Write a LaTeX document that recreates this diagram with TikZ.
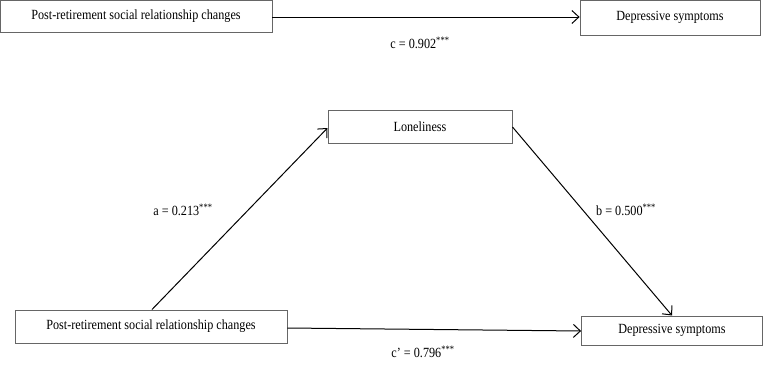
\documentclass[tikz,border=0pt]{standalone}
\usepackage{fontspec}
\setmainfont{Liberation Serif}[FakeStretch=0.87]
\usetikzlibrary{arrows.meta}
\begin{document}
\begin{tikzpicture}[x=1pt,y=-1pt,
  box/.style={draw=black!60,line width=0.8pt,fill=white,inner sep=0pt,font=\fontsize{14}{16}\selectfont},
  lbl/.style={font=\fontsize{14}{16}\selectfont,inner sep=0pt},
  arr/.style={line width=1pt,-{Straight Barb[length=7pt,width=13pt,line width=1pt]}}]
\useasboundingbox (0,0) rectangle (765,367);
% top panel
\node[box,minimum width=272pt,minimum height=32pt] (x1) at (136,16) {Post-retirement social relationship changes};
\node[box,minimum width=180pt,minimum height=35pt] (y1) at (670,17.5) {Depressive symptoms};
\draw[arr] (x1.east |- 0,17) -- (y1.west |- 0,17);
\node[lbl] (c) at (420,43) {c = 0.902\textsuperscript{***}};
% bottom panel
\node[box,minimum width=184pt,minimum height=33pt] (m) at (420,126.5) {Loneliness};
\node[box,minimum width=272pt,minimum height=33pt] (x2) at (151,326.5) {Post-retirement social relationship changes};
\node[box,minimum width=181pt,minimum height=29pt] (y2) at (672,330.5) {Depressive symptoms};
\coordinate (aS) at (152,309.5);
\coordinate (aE) at (327.5,128);
\coordinate (bS) at (512.5,127);
\coordinate (bE) at (672,315.5);
\draw[arr] (aS) -- (aE);
\draw[arr] (bS) -- (bE);
\draw[arr] (x2.east |- 0,328) -- (y2.west |- 0,331);
\node[lbl] (a) at (183,210) {a = 0.213\textsuperscript{***}};
\node[lbl] (b) at (626,210) {b = 0.500\textsuperscript{***}};
\node[lbl] (cp) at (423,352) {c’ = 0.796\textsuperscript{***}};
\end{tikzpicture}
\end{document}
